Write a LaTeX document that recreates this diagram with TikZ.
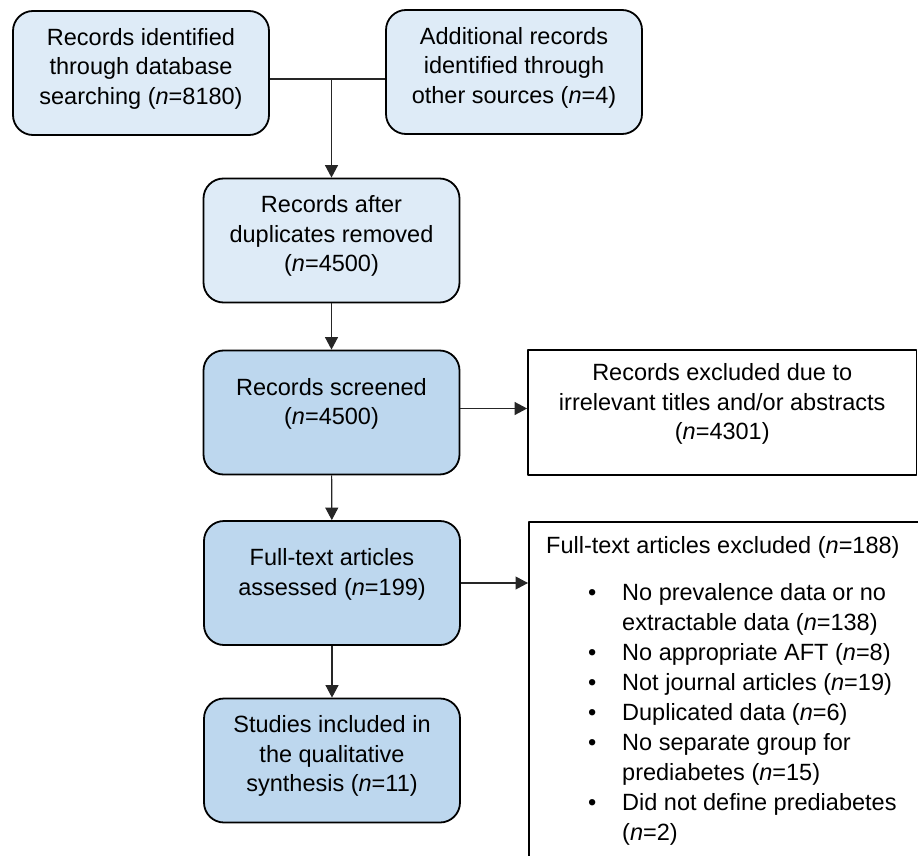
\documentclass[tikz,border=0pt]{standalone}
\usepackage{fontspec}
\setmainfont{Liberation Sans}
\usetikzlibrary{arrows.meta,positioning}
\definecolor{boxlight}{RGB}{222,235,247}
\definecolor{boxdark}{RGB}{189,215,238}
\tikzset{
	flowbox/.style={draw=black,line width=1.8pt,rounded corners=20pt,align=center,minimum width=256pt,minimum height=124pt,inner sep=0pt,text depth=14pt},
	lightbox/.style={flowbox,fill=boxlight},
	darkbox/.style={flowbox,fill=boxdark},
	exclbox/.style={draw=black,line width=1.8pt,fill=white,align=center,inner sep=0pt},
	link/.style={draw=black!85,line width=1.1pt}
}
\newcommand{\bitem}{\makebox[76pt][l]{\hspace*{42pt}\textbullet}}
\newcommand{\bcont}{\makebox[76pt]{}}
\begin{document}
\begin{tikzpicture}[x=1pt,y=-1pt,font=\fontsize{23.5}{29.5}\selectfont,line join=round,>={Triangle[length=12.5pt,width=13pt]}]
			\useasboundingbox (0,0) rectangle (918,856);
			\clip (0,0) rectangle (918,856);
			\node[lightbox] (recdb) at (141,73) {Records identified\\through database\\searching (\textit{n}=8180)};
			\node[lightbox] (recother) at (514,72) {Additional records\\identified through\\other sources (\textit{n}=4)};
			\node[lightbox] (dedup) at (331.5,240.5) {Records after\\duplicates removed\\(\textit{n}=4500)};
			\node[darkbox,text depth=22pt] (screen) at (331.5,412.5) {Records screened\\(\textit{n}=4500)};
			\node[darkbox,text depth=22pt] (fulltext) at (332,583) {Full-text articles\\assessed (\textit{n}=199)};
			\node[darkbox] (included) at (332,760.5) {Studies included in\\the qualitative\\synthesis (\textit{n}=11)};
			\node[exclbox,minimum width=388.5pt,minimum height=125pt,text depth=22pt] (screenout) at (722.25,412.5) {Records excluded due to\\irrelevant titles and/or abstracts\\(\textit{n}=4301)};
			\node[exclbox,anchor=north west,minimum width=400pt,minimum height=350pt] (fullout) at (528,521) {};
			\node[anchor=north west,align=left,inner sep=0pt,font=\fontsize{23.5}{30}\selectfont] (fullouttxt) at (546,536) {Full-text articles excluded (\textit{n}=188)\\[17pt]
				\bitem No prevalence data or no\\
				\bcont extractable data (\textit{n}=138)\\
				\bitem No appropriate AFT (\textit{n}=8)\\
				\bitem Not journal articles (\textit{n}=19)\\
				\bitem Duplicated data (\textit{n}=6)\\
				\bitem No separate group for\\
				\bcont prediabetes (\textit{n}=15)\\
				\bitem Did not define prediabetes\\
				\bcont (\textit{n}=2)};
			\coordinate (merge) at (331.5,79);
			\draw[link] (recdb.east |- merge) -- (recother.west |- merge);
			\draw[link,->] (merge) -- (dedup.north);
			\draw[link,->] (dedup) -- (screen);
			\draw[link,->] (screen) -- (fulltext);
			\draw[link,->] (fulltext) -- (included);
			\draw[link,->] ([yshift=4pt]screen.east) -- ([yshift=4pt]screenout.west);
			\draw[link,->] (fulltext.east) -- (fulltext.east -| fullout.west);
		\end{tikzpicture}
\end{document}
